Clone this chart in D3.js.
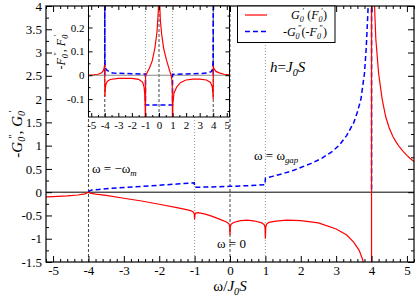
<!DOCTYPE html>
<html>
<head>
<meta charset="utf-8">
<script src="https://cdn.jsdelivr.net/npm/d3@7"></script>
<style>
  body { margin: 0; background: #fff; }
  svg { display: block; }
</style>
</head>
<body>
<div id="chart"></div>
<script>
// main panel, red: G0'  (omega, value)
const redW = [-5.2, -5.0, -4.6, -4.3, -4.1, -4.0, -3.95, -3.8, -3.5, -3.0, -2.5, -2.0, -1.5, -1.2, -1.1,
  -1.03, -1.01, -1.0, -0.99, -0.97, -0.9, -0.7, -0.5, -0.3, -0.1, -0.03, -0.01, 0, 0.01, 0.03,
  0.1, 0.3, 0.5, 0.7, 0.9, 0.97, 0.99, 1.0, 1.01, 1.03, 1.1, 1.3, 1.6, 2.0, 2.5, 3.0, 3.3, 3.5,
  3.65, 3.75, 3.85, 3.95, 4.0, 4.0, 4.08, 4.12, 4.2, 4.3, 4.4, 4.5, 4.6, 4.7, 4.8, 4.9, 5.0, 5.1, 5.2];
const redG = [-0.10, -0.095, -0.08, -0.06, -0.035, 0.0, -0.02, -0.04, -0.07, -0.13, -0.19, -0.26, -0.33, -0.38, -0.40,
  -0.43, -0.47, -0.58, -0.48, -0.45, -0.44, -0.47, -0.52, -0.58, -0.64, -0.68, -0.73, -0.92, -0.74, -0.69,
  -0.65, -0.61, -0.60, -0.62, -0.66, -0.70, -0.76, -1.0, -0.76, -0.69, -0.65, -0.62, -0.60, -0.61, -0.66, -0.79, -0.92, -1.08,
  -1.25, -1.45, -1.8, -3.0, -10, 10, 4.1, 3.3, 2.55, 2.0, 1.62, 1.38, 1.2, 1.07, 0.96, 0.87, 0.79, 0.72, 0.66];

// main panel, blue dashed: -G0''
const blueW = [-4.0, -3.97, -3.9, -3.7, -3.5, -3.0, -2.5, -2.0, -1.5, -1.01, -1.0, -0.5, 0, 0.5, 0.99,
  1.0, 1.2, 1.5, 1.8, 2.0, 2.3, 2.6, 2.9, 3.1, 3.3, 3.5, 3.6, 3.7, 3.8, 3.85, 3.9, 3.95, 4.0, 4.0];
const blueG = [0.0, 0.03, 0.045, 0.06, 0.075, 0.10, 0.125, 0.15, 0.175, 0.20, 0.105, 0.113, 0.125, 0.14, 0.16,
  0.30, 0.34, 0.40, 0.47, 0.53, 0.62, 0.73, 0.88, 1.02, 1.22, 1.5, 1.72, 2.0, 2.55, 3.1, 3.9, 5.5, 10, 0.0];

// inset, red: F0'
const insRedW = [-5.2, -4.8, -4.5, -4.3, -4.2, -4.1, -4.05, -4.01, -3.99, -3.95, -3.9, -3.8, -3.6, -3.0, -2.0,
  -1.5, -1.2, -1.1, -1.05, -1.02, -1.0, -0.99, -0.9, -0.7, -0.5, -0.3, -0.15, -0.05, -0.02, 0,
  0.02, 0.1, 0.2, 0.35, 0.56, 0.7, 0.81, 0.9, 0.95, 0.98, 1.0, 1.02, 1.1, 1.3, 1.6, 2.0, 2.5,
  3.0, 3.5, 3.8, 3.93, 3.98, 3.995, 4.01, 4.05, 4.2, 4.44, 4.8, 5.2];
const insRedF = [0.0, 0.002, 0.004, 0.008, 0.012, 0.02, 0.03, 0.045, -0.09, -0.05, -0.035, -0.025, -0.018, -0.013, -0.013,
  -0.017, -0.03, -0.05, -0.08, -0.13, -0.3, -0.002, 0.008, 0.03, 0.06, 0.115, 0.18, 0.27, 0.35, 0.4,
  0.35, 0.23, 0.17, 0.11, 0.062, 0.035, 0.014, 0.0, -0.02, -0.05, -0.3, -0.12, -0.075, -0.05, -0.03, -0.02, -0.016,
  -0.016, -0.02, -0.03, -0.05, -0.08, -0.1, 0.04, 0.028, 0.016, 0.01, 0.004, 0.002];

// inset, blue dashed: -F0''
const insBlueW = [-4.0, -4.0, -3.99, -3.95, -3.87, -3.6, -3.38, -2.0, -1.0, -1.0, 1.0, 1.0, 2.0, 3.0, 3.6, 3.85, 3.95, 3.99, 4.0, 4.0];
const insBlueF = [0.0, 0.3, 0.06, 0.03, 0.022, 0.012, 0.009, 0.006, 0.005, -0.125, -0.125, 0.004, 0.005, 0.007, 0.01, 0.015, 0.025, 0.06, 0.3, 0.0];

// vertical guide lines (omega) and their kind
const refW = [-4, -1, 0, 1, 4];
const refKind = ["dash", "dot", "dash", "dot", "dash"];

// tick labels
const xTicks = [-5, -4, -3, -2, -1, 0, 1, 2, 3, 4, 5];
const yTicks = [-1.5, -1, -0.5, 0, 0.5, 1, 1.5, 2, 2.5, 3, 3.5, 4];
const insXTicks = [-5, -4, -3, -2, -1, 0, 1, 2, 3, 4, 5];
const insYTicks = [-0.1, 0, 0.1, 0.2];

const W = 415, H = 297;

// pick the first serif face the browser really has (compared against monospace)
function pickSerif() {
  const ctx = document.createElement("canvas").getContext("2d");
  const probe = "ω=0123456789 GgFfJS";
  ctx.font = "20px monospace";
  const base = ctx.measureText(probe).width;
  const names = ["Liberation Serif", "Times New Roman", "DejaVu Serif", "Noto Serif", "FreeSerif", "Tinos"];
  for (const n of names) {
    ctx.font = `20px "${n}", monospace`;
    if (Math.abs(ctx.measureText(probe).width - base) > 0.5) return `"${n}", serif`;
  }
  return "serif";
}
const SERIF = pickSerif();

const x = d3.scaleLinear().domain([-5.2, 5.2]).range([46, 414]);
const y = d3.scaleLinear().domain([-1.5, 4]).range([262, 6]);
const ix = d3.scaleLinear().domain([-5.2, 5.2]).range([88.5, 229.5]);
const iy = d3.scaleLinear().domain([-0.175, 0.29]).range([117, 6]);

const svg = d3.select("#chart").append("svg")
    .attr("width", W).attr("height", H)
    .style("font-family", SERIF);

svg.append("rect").attr("width", W).attr("height", H).attr("fill", "#fff");

const defs = svg.append("defs");
function clip(id, xs, ys) {
  defs.append("clipPath").attr("id", id).append("rect")
      .attr("x", xs.range()[0]).attr("y", ys.range()[1])
      .attr("width", xs.range()[1] - xs.range()[0])
      .attr("height", ys.range()[0] - ys.range()[1]);
}
clip("clipMain", x, y);
clip("clipInset", ix, iy);

// a symbol like G0'' : italic letter, subscript 0, primes above it
function addSym(t, letter, primes, fs) {
  t.append("tspan").attr("font-style", "italic").text(letter);
  t.append("tspan").attr("font-size", fs * 0.68).attr("font-style", "italic")
      .attr("baseline-shift", `${-fs * 0.22}px`).text("0");
  if (primes) {
    t.append("tspan").attr("font-size", fs * 0.68)
        .attr("dx", -fs * 0.12)
        .attr("baseline-shift", `${fs * 0.4}px`).text(primes);
  }
}
function addPlain(t, s, italic) {
  t.append("tspan").attr("font-style", italic ? "italic" : "normal").text(s);
}
function addSub(t, s, fs) {
  t.append("tspan").attr("font-size", fs * 0.68).attr("font-style", "italic")
      .attr("baseline-shift", `${-fs * 0.25}px`).text(s);
}

// guide lines over the full height of a panel
function guides(g, xs, ys) {
  g.selectAll(".guide")
    .data(d3.zip(refW, refKind))
    .enter().append("line")
      .attr("x1", d => xs(d[0])).attr("x2", d => xs(d[0]))
      .attr("y1", ys.range()[0]).attr("y2", ys.range()[1])
      .attr("stroke", d => d[1] === "dash" ? "#444" : "#999")
      .attr("stroke-width", 1)
      .attr("stroke-dasharray", d => d[1] === "dash" ? "3,2" : "1,2");
}

function curve(g, xs, ys, ws, vs, color, dashed, clipId) {
  const line = d3.line().x(d => xs(d[0])).y(d => ys(d[1]));
  g.append("path")
      .datum(d3.zip(ws, vs))
      .attr("clip-path", `url(#${clipId})`)
      .attr("d", line)
      .attr("fill", "none")
      .attr("stroke", color)
      .attr("stroke-width", dashed ? 1.5 : 1.2)
      .attr("stroke-dasharray", dashed ? "5,3" : null);
}

function notInt(v) { return Math.abs(v - Math.round(v)) > 1e-6; }

// ticks pointing inward on all four sides, labels on bottom and left
function frame(g, xs, ys, o) {
  const [x0, x1] = xs.range(), [y0, y1] = ys.range();
  const fmt = d => String(d);
  const style = a => {
    a.attr("font-family", null).attr("font-size", o.fs);
    a.select(".domain").remove();
    a.selectAll(".tick line").attr("stroke", "#000");
    a.selectAll(".tick text").attr("fill", "#000");
  };
  const set = [
    [d3.axisBottom, `translate(0,${y0})`, xs, o.xMajor, o.xMinor, true],
    [d3.axisTop, `translate(0,${y1})`, xs, o.xMajor, o.xMinor, false],
    [d3.axisLeft, `translate(${x0},0)`, ys, o.yMajor, o.yMinor, true],
    [d3.axisRight, `translate(${x1},0)`, ys, o.yMajor, o.yMinor, false]
  ];
  set.forEach(([ax, tr, sc, major, minor, labels]) => {
    g.append("g").attr("transform", tr)
      .call(ax(sc).tickValues(minor).tickSize(-o.minor).tickFormat(""))
      .call(style);
    g.append("g").attr("transform", tr)
      .call(ax(sc).tickValues(major).tickSize(-o.major).tickPadding(o.pad)
              .tickFormat(labels ? fmt : ""))
      .call(style);
  });
  g.append("rect")
      .attr("x", x0).attr("y", y1)
      .attr("width", x1 - x0).attr("height", y0 - y1)
      .attr("fill", "none").attr("stroke", "#000").attr("stroke-width", o.border);
}

// ---------- main panel ----------
const main = svg.append("g");
guides(main, x, y);
main.append("line")
    .attr("x1", x.range()[0]).attr("x2", x.range()[1])
    .attr("y1", y(0)).attr("y2", y(0))
    .attr("stroke", "#000").attr("stroke-width", 1);
curve(main, x, y, blueW, blueG, "#0000ff", true, "clipMain");
curve(main, x, y, redW, redG, "#ff0000", false, "clipMain");
frame(main, x, y, {
  xMajor: xTicks, xMinor: d3.range(-26, 27).map(i => i / 5).filter(notInt),
  yMajor: yTicks, yMinor: d3.range(-6, 17).map(i => i / 4).filter(v => notInt(v * 2)),
  major: 6, minor: 3, pad: 4, fs: 13, border: 1.2
});

// annotations
const fsA = 13;
let t = svg.append("text").attr("x", 92).attr("y", 173).attr("font-size", fsA);
addPlain(t, "ω = −ω"); addSub(t, "m", fsA);
t = svg.append("text").attr("x", 217).attr("y", 248).attr("font-size", fsA);
addPlain(t, "ω = 0");
t = svg.append("text").attr("x", 254).attr("y", 160).attr("font-size", fsA);
addPlain(t, "ω = ω"); addSub(t, "gap", fsA);
t = svg.append("text").attr("x", 270).attr("y", 72).attr("font-size", 15);
addPlain(t, "h", true); addPlain(t, "="); addPlain(t, "J", true); addSub(t, "0", 15); addPlain(t, "S", true);

// axis titles
t = svg.append("text").attr("x", 230).attr("y", 291).attr("font-size", 15).attr("text-anchor", "middle");
addPlain(t, "ω/"); addPlain(t, "J", true); addSub(t, "0", 15); addPlain(t, "S", true);
t = svg.append("text").attr("font-size", 15).attr("text-anchor", "middle")
    .attr("transform", "translate(22,134) rotate(-90)");
addPlain(t, "-"); addSym(t, "G", "″", 15); addPlain(t, ", "); addSym(t, "G", "′", 15);

// ---------- inset ----------
const ins = svg.append("g");
ins.append("rect")
    .attr("x", ix.range()[0]).attr("y", iy.range()[1])
    .attr("width", ix.range()[1] - ix.range()[0])
    .attr("height", iy.range()[0] - iy.range()[1])
    .attr("fill", "#fff");
guides(ins, ix, iy);
ins.append("line")
    .attr("x1", ix.range()[0]).attr("x2", ix.range()[1])
    .attr("y1", iy(0)).attr("y2", iy(0))
    .attr("stroke", "#888").attr("stroke-width", 1.2);
curve(ins, ix, iy, insBlueW, insBlueF, "#0000ff", true, "clipInset");
curve(ins, ix, iy, insRedW, insRedF, "#ff0000", false, "clipInset");
frame(ins, ix, iy, {
  xMajor: insXTicks, xMinor: d3.range(-10, 11).map(i => i / 2).filter(notInt),
  yMajor: insYTicks, yMinor: [-0.15, -0.05, 0.05, 0.15, 0.25],
  major: 4, minor: 2, pad: 4, fs: 11, border: 1
});
t = svg.append("text").attr("font-size", 12).attr("text-anchor", "middle")
    .attr("transform", "translate(65,52) rotate(-90)");
addPlain(t, "-"); addSym(t, "F", "″", 12); addPlain(t, ", "); addSym(t, "F", "′", 12);

// ---------- legend ----------
const leg = svg.append("g");
leg.append("rect")
    .attr("x", 237.5).attr("y", 6).attr("width", 97.5).attr("height", 36.5)
    .attr("fill", "#fff").attr("stroke", "#000").attr("stroke-width", 1);
leg.append("line").attr("x1", 245).attr("x2", 267).attr("y1", 15).attr("y2", 15)
    .attr("stroke", "#ff0000").attr("stroke-width", 1.2);
leg.append("line").attr("x1", 245).attr("x2", 267).attr("y1", 31.5).attr("y2", 31.5)
    .attr("stroke", "#0000ff").attr("stroke-width", 1.5).attr("stroke-dasharray", "5,3");
const fsL = 12;
t = leg.append("text").attr("x", 327).attr("y", 19).attr("font-size", fsL).attr("text-anchor", "end");
addSym(t, "G", "′", fsL); addPlain(t, " ("); addSym(t, "F", "′", fsL); addPlain(t, ")");
t = leg.append("text").attr("x", 327).attr("y", 35.5).attr("font-size", fsL).attr("text-anchor", "end");
addPlain(t, "-"); addSym(t, "G", "″", fsL); addPlain(t, "(-"); addSym(t, "F", "″", fsL); addPlain(t, ")");
</script>
</body>
</html>
